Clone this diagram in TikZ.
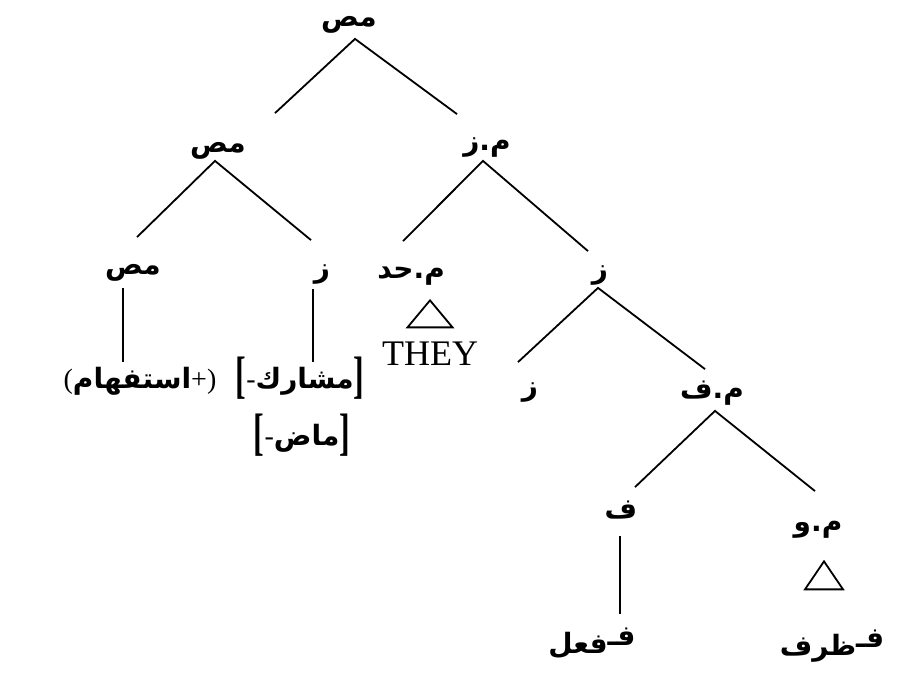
\documentclass[tikz,border=0pt]{standalone}
\usepackage{fontspec}
\usepackage{graphicx}
\setmainfont{Liberation Serif}
\newfontfamily\arabicfont[Script=Arabic]{DejaVu Sans}
\TeXXeTstate=1
\usetikzlibrary{positioning, shapes.geometric}

\newcommand{\artext}[1]{{\arabicfont\bfseries\beginR #1\endR}}
\newcommand{\tallbr}[1]{\raisebox{-4pt}{\fontsize{32}{34}\selectfont\bfseries\scalebox{1}[1.6]{#1}}}

\begin{document}
\begin{tikzpicture}[x=1pt, y=-1pt, line width=1.8pt,
    every node/.style={font={\fontsize{28}{32}\selectfont}, inner sep=0pt},
    cat/.style={text height=.8em, text depth=.2em},
    roof/.style={draw, isosceles triangle, shape border rotate=90, isosceles triangle stretches, minimum width=45pt, minimum height=27pt, anchor=apex}]
    \useasboundingbox (0,0) rectangle (901,679);

    \node[cat] (root) at (349,24) {\artext{مص}};
    \node[cat] (cp) at (218,150) {\artext{مص}};
    \node[cat] (ip) at (487,148) {\artext{م.ز}};
    \node[cat] (c) at (133,271) {\artext{مص}};
    \node[cat] (infl) at (322,274) {\artext{ز}};
    \node[cat] (dp) at (411,275) {\artext{م.حد}};
    \node[cat] (ibar) at (600,275) {\artext{ز}};
    \node[cat] (ibarl) at (530,392) {\artext{ز}};
    \node[cat] (vp) at (712,395) {\artext{م.ف}};
    \node[cat] (v) at (621,515) {\artext{ف}};
    \node[cat] (advp) at (818,528) {\artext{م.و}};

    \node[cat] (quest) at (140,385) {(\artext{استفهام}+)};
    \node[cat] (agrs) at (300,385) {\tallbr{[}-\artext{مشارك}\tallbr{]}};
    \node[cat] (tense) at (302,442) {\tallbr{[}-\artext{ماض}\tallbr{]}};
    \node[roof] (dproof) at (430,298) {};
    \node[font={\fontsize{36}{40}\selectfont}] (they) [below=13pt of dproof] {THEY};
    \node[roof, minimum width=38pt, minimum height=28pt] (advroof) at (824,559) {};
    \node[cat] (verb) at (592,650) {\artext{\raisebox{8pt}{فـ}فعل}};
    \node[cat] (adv) at (832,652) {\artext{\raisebox{8pt}{فـ}ظرف}};

    \draw ([shift={(57,-31)}]cp.north) -- ([shift={(6,9)}]root.south) -- ([shift={(-30,-28)}]ip.north);
    \draw ([shift={(4,-28)}]c.north) -- ([shift={(-3,5)}]cp.south) -- ([shift={(-11,-28)}]infl.north);
    \draw ([shift={(-8,-28)}]dp.north) -- ([shift={(-4,7)}]ip.south) -- ([shift={(-12,-18)}]ibar.north);
    \draw ([shift={(-12,-24)}]ibarl.north) -- ([shift={(-2,7)}]ibar.south) -- ([shift={(-7,-20)}]vp.north);
    \draw ([shift={(14,-22)}]v.north) -- ([shift={(3,10)}]vp.south) -- ([shift={(-3,-31)}]advp.north);
    \draw ([shift={(-10,11)}]c.south) -- ([shift={(-17,-17)}]quest.north);
    \draw ([shift={(-9,9)}]infl.south) -- ([shift={(13,-17)}]agrs.north);
    \draw ([shift={(-1,15)}]v.south) -- ([shift={(28,-30)}]verb.north);
\end{tikzpicture}
\end{document}
